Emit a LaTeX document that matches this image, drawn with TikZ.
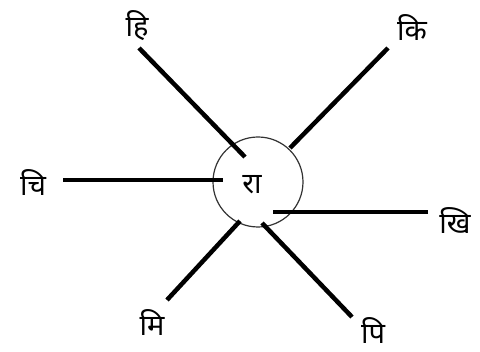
\documentclass[tikz,border=0pt]{standalone}
\usepackage{fontspec}
\newfontfamily\deva[Script=Devanagari]{Noto Sans}
\begin{document}
\begin{tikzpicture}[x=1pt,y=-1pt,
  spoke/.style={line width=4.5pt,black},
  lbl/.style={font=\deva\fontsize{29}{32}\selectfont,inner sep=0pt}]
\useasboundingbox (0,0) rectangle (480,352);
\node[circle,draw=black!80,line width=1.2pt,minimum size=90pt,inner sep=0pt] (c) at (258,182) {};
\node[lbl] (ra) at (252,185) {रा};
\node[lbl] (hi) at (137,26) {हि};
\node[lbl] (ki) at (412,28) {कि};
\node[lbl] (ci) at (33,183) {चि};
\node[lbl] (khi) at (455,221) {खि};
\node[lbl] (mi) at (152,323) {मि};
\node[lbl] (pi) at (373,331) {पि};
\coordinate (hiA) at (139,48); \coordinate (hiB) at (245,157);
\coordinate (kiA) at (388,48); \coordinate (kiB) at (290,148);
\coordinate (ciA) at (63,180); \coordinate (ciB) at (223,180);
\coordinate (khiA) at (428,212); \coordinate (khiB) at (273,212);
\coordinate (miA) at (167,300); \coordinate (miB) at (240,221);
\coordinate (piA) at (352,317); \coordinate (piB) at (262,223);
\draw[spoke] (hiA) -- (hiB);
\draw[spoke] (kiA) -- (kiB);
\draw[spoke] (ciA) -- (ciB);
\draw[spoke] (khiA) -- (khiB);
\draw[spoke] (miA) -- (miB);
\draw[spoke] (piA) -- (piB);
\end{tikzpicture}
\end{document}
